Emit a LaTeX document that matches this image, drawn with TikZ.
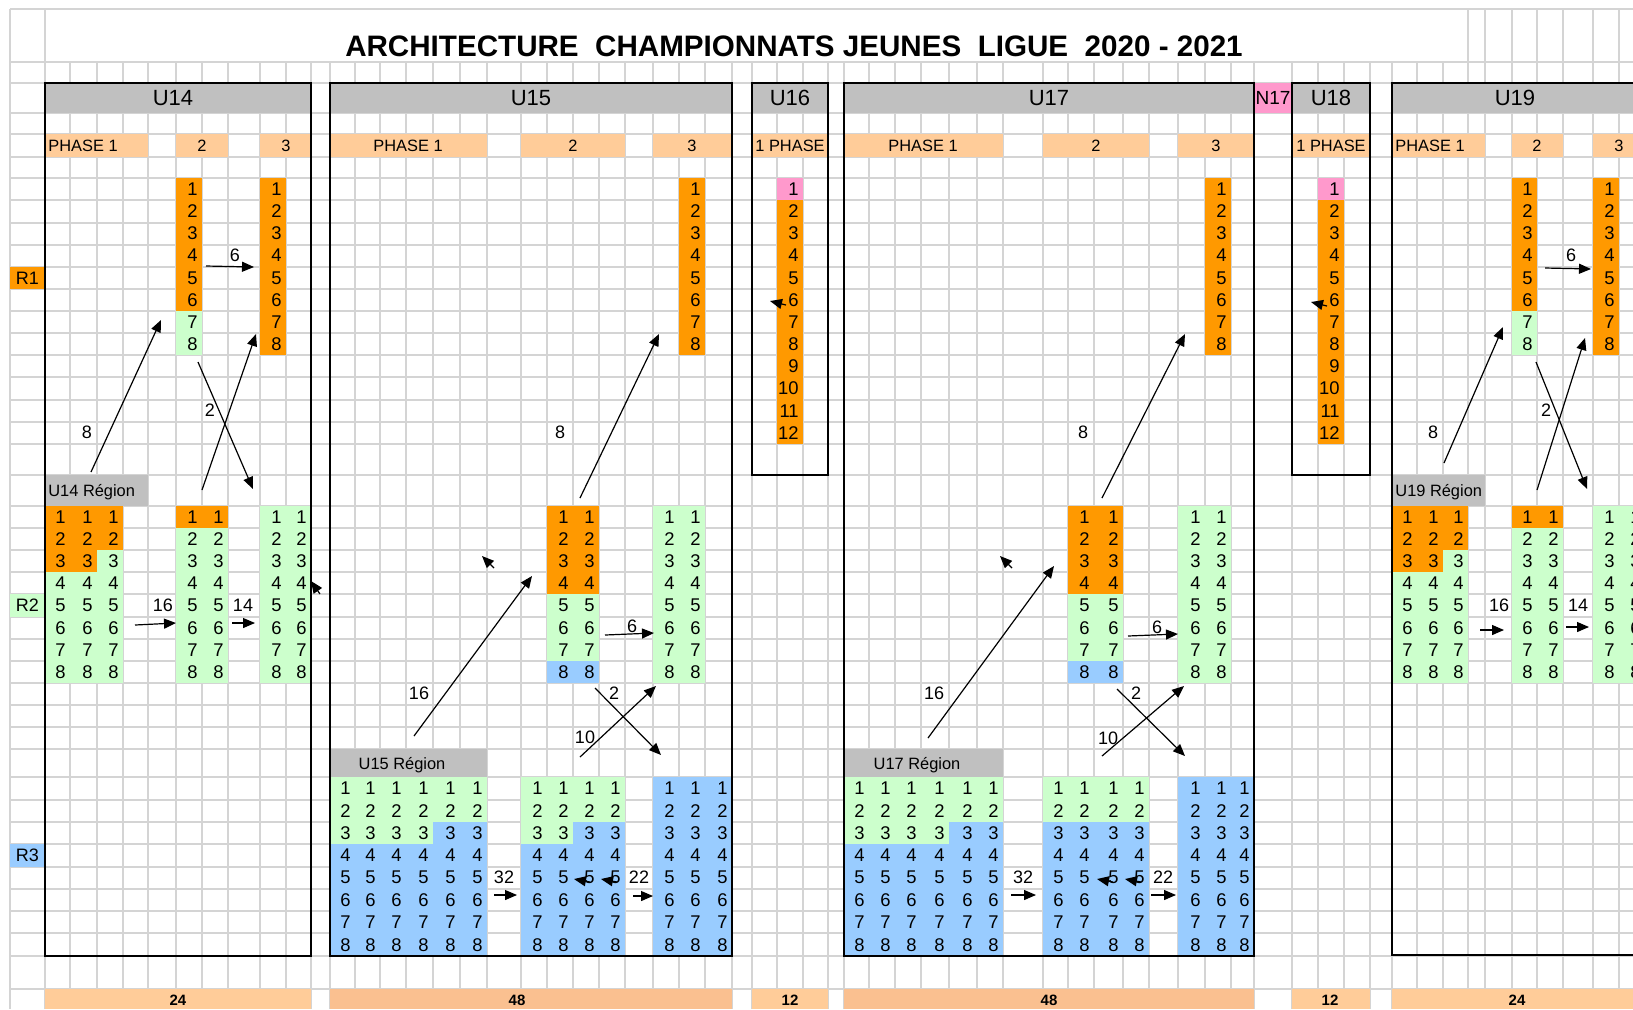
\documentclass[tikz,border=0pt]{standalone}
\usepackage{fontspec}
\setmainfont{Liberation Sans}
\usetikzlibrary{arrows.meta}
\definecolor{gridl}{HTML}{D4D4D4}
\definecolor{hdr}{HTML}{C0C0C0}
\definecolor{orng}{HTML}{FF9900}
\definecolor{pale}{HTML}{FFCC99}
\definecolor{tan}{HTML}{FAC090}
\definecolor{grn}{HTML}{CCFFCC}
\definecolor{blu}{HTML}{99CCFF}
\definecolor{pnk}{HTML}{FF99CC}
% one column of ranks: right edge, top, row height, count
\newcommand{\numcol}[4]{%
  \foreach \i in {1,...,#4}
    \node[num] (n#1-#2-\i) at (#1-4, #2+\i*#3-0.5*#3) {\i};}

\begin{document}
\begin{tikzpicture}[x=0.5pt, y=-0.5pt,
  num/.style={anchor=east, inner sep=0pt, font=\fontsize{9.2}{11}\selectfont},
  lbl/.style={inner sep=0pt, font=\fontsize{9}{11}\selectfont},
  phase/.style={inner sep=0pt, font=\fontsize{8.2}{10}\selectfont},
  region/.style={inner sep=0pt, text depth=0pt, font=\fontsize{8.2}{10}\selectfont},
  cat/.style={inner sep=0pt, font=\fontsize{11}{13}\selectfont},
  tot/.style={inner sep=0pt, font=\fontsize{7.5}{9}\selectfont\bfseries},
  box/.style={draw=black, line width=0.9pt},
  arr/.style={-{Triangle[length=6pt, width=5pt]}, line width=0.6pt}]
  \useasboundingbox (0,0) rectangle (1633,1009);
  \clip (0,0) rectangle (1633,1009);
  \fill[white] (0,0) rectangle (1633,1009);

  % Grid
  \foreach \y in {9,62,83,113,134,157,178,200,223,245,267,289,311,333,355,377,400,422,444,475,506,528,550,572,594,617,639,661,683,705,727,749,777,800,822,844,867,889,911,933,956,989}
    \draw[gridl, line width=0.6pt] (10,\y) -- (1633,\y);
  \foreach \x in {10,45,1468,1485,1512,1537,1563,1593,1619}
    \draw[gridl, line width=0.6pt] (\x,9) -- (\x,62);
  \foreach \x in {10,45,70,97,123,148,176,202,228,260,286,311,330,355,380,406,433,460,487,521,547,573,599,625,653,679,705,732,752,777,803,828,844,869,895,921,949,977,1003,1043,1068,1094,1123,1149,1178,1205,1231,1254,1292,1318,1344,1370,1392,1417,1443,1468,1485,1512,1537,1563,1593,1619}
    \draw[gridl, line width=0.6pt] (\x,62) -- (\x,1009);

  % Title
  \node[font=\fontsize{14.8}{17}\selectfont\bfseries, inner sep=0pt] (title) at (794,46)
    {ARCHITECTURE\ \ CHAMPIONNATS JEUNES\ \ LIGUE\ \ 2020 - 2021};

  % Category headers
  \fill[hdr] (45,83) rectangle (311,113);
  \fill[hdr] (330,83) rectangle (732,113);
  \fill[hdr] (752,83) rectangle (828,113);
  \fill[hdr] (844,83) rectangle (1254,113);
  \fill[pnk] (1254,83) rectangle (1292,113);
  \fill[hdr] (1292,83) rectangle (1370,113);
  \fill[hdr] (1392,83) rectangle (1645,113);
  \node[cat] (u14) at (173,98) {U14};
  \node[cat] (u15) at (531,98) {U15};
  \node[cat] (u16) at (790,98) {U16};
  \node[cat] (u17) at (1049,98) {U17};
  \node[font=\fontsize{9.5}{11}\selectfont, inner sep=0pt] (n17) at (1273,98) {N17};
  \node[cat] (u18) at (1331,98) {U18};
  \node[cat] (u19) at (1515,98) {U19};

  % Phases
  \foreach \a/\b in {45/148,176/228,260/311,330/487,521/625,653/732,752/828,844/1003,1043/1149,1178/1254,1292/1370,1392/1485,1512/1563,1593/1645}
    \fill[pale] (\a,134) rectangle (\b,157);
  \node[phase, anchor=west] (p14a) at (48,145.5) {PHASE 1};
  \node[phase] (p14b) at (202,145.5) {2};
  \node[phase] (p14c) at (286,145.5) {3};
  \node[phase] (p15a) at (408,145.5) {PHASE 1};
  \node[phase] (p15b) at (573,145.5) {2};
  \node[phase] (p15c) at (692,145.5) {3};
  \node[phase] (p16) at (790,145.5) {1 PHASE};
  \node[phase] (p17a) at (923,145.5) {PHASE 1};
  \node[phase] (p17b) at (1096,145.5) {2};
  \node[phase] (p17c) at (1216,145.5) {3};
  \node[phase] (p18) at (1331,145.5) {1 PHASE};
  \node[phase, anchor=west] (p19a) at (1395,145.5) {PHASE 1};
  \node[phase] (p19b) at (1537,145.5) {2};
  \node[phase] (p19c) at (1619,145.5) {3};

  % Levels
  \fill[orng] (10,267) rectangle (45,289);
  \fill[grn] (10,594) rectangle (45,617);
  \fill[blu] (10,844) rectangle (45,867);
  \node[lbl] (r1) at (27.5,278) {R1};
  \node[lbl] (r2) at (27.5,605.5) {R2};
  \node[lbl] (r3) at (27.5,855.5) {R3};

  % R1 columns
  \fill[orng] (176,178) rectangle (202,311);
  \fill[grn] (176,311) rectangle (202,355);
  \fill[orng] (260,178) rectangle (286,355);
  \fill[orng] (679,178) rectangle (705,355);
  \fill[pnk] (777,178) rectangle (803,200);
  \fill[orng] (777,200) rectangle (803,444);
  \fill[orng] (1205,178) rectangle (1231,355);
  \fill[pnk] (1318,178) rectangle (1344,200);
  \fill[orng] (1318,200) rectangle (1344,444);
  \fill[orng] (1512,178) rectangle (1537,311);
  \fill[grn] (1512,311) rectangle (1537,355);
  \fill[orng] (1593,178) rectangle (1619,355);
  \foreach \c in {202,286,705,1231,1537,1619} {\numcol{\c}{178}{22.17}{8}}
  \foreach \c in {803,1344} {\numcol{\c}{178}{22.17}{12}}

  % Regional heads
  \fill[hdr] (45,475) rectangle (148,506);
  \fill[hdr] (330,749) rectangle (487,777);
  \fill[hdr] (844,749) rectangle (1003,777);
  \fill[hdr] (1392,475) rectangle (1485,506);
  \node[region, anchor=west] (reg14) at (48,490.5) {U14 Région};
  \node[region] (reg15) at (402,763) {U15 Région};
  \node[region] (reg17) at (917,763) {U17 Région};
  \node[region, anchor=west] (reg19) at (1395,490.5) {U19 Région};

  % R2 blocks
  \fill[grn] (45,506) rectangle (123,683);
  \fill[orng] (45,506) rectangle (123,550);
  \fill[orng] (45,550) rectangle (97,572);
  \fill[grn] (176,506) rectangle (228,683);
  \fill[orng] (176,506) rectangle (228,528);
  \fill[grn] (260,506) rectangle (311,683);
  \fill[orng] (547,506) rectangle (599,594);
  \fill[grn] (547,594) rectangle (599,661);
  \fill[blu] (547,661) rectangle (599,683);
  \fill[grn] (653,506) rectangle (705,683);
  \fill[orng] (1068,506) rectangle (1123,594);
  \fill[grn] (1068,594) rectangle (1123,661);
  \fill[blu] (1068,661) rectangle (1123,683);
  \fill[grn] (1178,506) rectangle (1231,683);
  \fill[grn] (1392,506) rectangle (1468,683);
  \fill[orng] (1392,506) rectangle (1468,550);
  \fill[orng] (1392,550) rectangle (1443,572);
  \fill[grn] (1512,506) rectangle (1563,683);
  \fill[orng] (1512,506) rectangle (1563,528);
  \fill[grn] (1593,506) rectangle (1645,683);
  \foreach \c in {70,97,123,202,228,286,311,573,599,679,705,1094,1123,1205,1231,1417,1443,1468,1537,1563,1619,1645}
    {\numcol{\c}{506}{22.125}{8}}

  % R3 blocks
  \fill[blu] (330,777) rectangle (487,956);
  \fill[grn] (330,777) rectangle (487,822);
  \fill[grn] (330,822) rectangle (433,844);
  \fill[blu] (521,777) rectangle (625,956);
  \fill[grn] (521,777) rectangle (625,822);
  \fill[grn] (521,822) rectangle (573,844);
  \fill[blu] (653,777) rectangle (732,956);
  \fill[blu] (844,777) rectangle (1003,956);
  \fill[grn] (844,777) rectangle (1003,822);
  \fill[grn] (844,822) rectangle (949,844);
  \fill[blu] (1043,777) rectangle (1149,956);
  \fill[grn] (1043,777) rectangle (1149,822);
  \fill[blu] (1178,777) rectangle (1254,956);
  \foreach \c in {355,380,406,433,460,487,547,573,599,625,679,705,732,869,895,921,949,977,1003,1068,1094,1123,1149,1205,1231,1254}
    {\numcol{\c}{777}{22.375}{8}}

  % Totals
  \fill[pale] (45,989) rectangle (311,1009);
  \fill[tan] (330,989) rectangle (732,1009);
  \fill[pale] (752,989) rectangle (828,1009);
  \fill[tan] (844,989) rectangle (1254,1009);
  \fill[pale] (1292,989) rectangle (1370,1009);
  \fill[pale] (1392,989) rectangle (1645,1009);
  \node[tot] (t14) at (178,1000) {24};
  \node[tot] (t15) at (517,1000) {48};
  \node[tot] (t16) at (790,1000) {12};
  \node[tot] (t17) at (1049,1000) {48};
  \node[tot] (t18) at (1330,1000) {12};
  \node[tot] (t19) at (1517,1000) {24};

  % Category frames
  \draw[box] (45,83) rectangle (311,956);
  \draw[box] (330,83) rectangle (732,956);
  \draw[box] (752,83) rectangle (828,475);
  \draw[box] (844,83) rectangle (1254,956);
  \draw[box] (1292,83) rectangle (1370,475);
  \draw[box] (1392,83) rectangle (1645,955);

  % U14 moves
  \draw[arr] (206,266) -- (254,267);
  \node[lbl] (m14a) at (235,255) {6};
  \draw[arr] (91,472) -- (161,320);
  \node[lbl] (m14b) at (87,432) {8};
  \draw[arr] (198,362) -- (253,489);
  \node[lbl] (m14c) at (210,410) {2};
  \draw[arr] (202,490) -- (256,334);
  \draw[arr] (135,625) -- (176,623);
  \node[lbl] (m14d) at (163,605) {16};
  \draw[arr] (232,623) -- (255,623);
  \node[lbl] (m14e) at (243,605) {14};
  \draw[arr] (320,594) -- (311,581);

  % U15 moves
  \draw[arr] (494,568) -- (482,556);
  \draw[arr] (580,498) -- (659,334);
  \node[lbl] (m15a) at (560,432) {8};
  \draw[arr] (414,736) -- (532,576);
  \node[lbl] (m15b) at (419,693) {16};
  \draw[arr] (605,635) -- (654,633);
  \node[lbl] (m15c) at (632,626) {6};
  \draw[arr] (595,688) -- (661,755);
  \node[lbl] (m15d) at (614,693) {2};
  \draw[arr] (580,757) -- (656,686);
  \node[lbl] (m15e) at (585,737) {10};
  \draw[arr] (494,895) -- (517,895);
  \node[lbl] (m15f) at (504,877) {32};
  \draw[arr] (633,896) -- (653,896);
  \node[lbl] (m15g) at (639,877) {22};
  \draw[arr] (590,882) -- (574,879);
  \draw[arr] (617,882) -- (601,879);

  % U16 and U18 marks
  \draw[arr] (786,305) -- (770,301);
  \draw[arr] (1327,306) -- (1311,302);

  % U17 moves
  \draw[arr] (1012,568) -- (1000,556);
  \draw[arr] (1102,498) -- (1185,334);
  \node[lbl] (m17a) at (1083,432) {8};
  \draw[arr] (928,738) -- (1054,566);
  \node[lbl] (m17b) at (934,693) {16};
  \draw[arr] (1128,636) -- (1178,634);
  \node[lbl] (m17c) at (1157,627) {6};
  \draw[arr] (1117,689) -- (1185,756);
  \node[lbl] (m17d) at (1136,693) {2};
  \draw[arr] (1102,756) -- (1184,686);
  \node[lbl] (m17e) at (1108,738) {10};
  \draw[arr] (1011,895) -- (1036,895);
  \node[lbl] (m17f) at (1023,877) {32};
  \draw[arr] (1151,895) -- (1176,895);
  \node[lbl] (m17g) at (1163,877) {22};
  \draw[arr] (1113,882) -- (1097,879);
  \draw[arr] (1141,882) -- (1125,879);

  % U19 moves
  \draw[arr] (1545,268) -- (1591,269);
  \node[lbl] (m19a) at (1571,255) {6};
  \draw[arr] (1444,463) -- (1503,327);
  \node[lbl] (m19b) at (1433,432) {8};
  \draw[arr] (1536,362) -- (1587,489);
  \node[lbl] (m19c) at (1546,410) {2};
  \draw[arr] (1537,490) -- (1585,338);
  \draw[arr] (1480,630) -- (1504,630);
  \node[lbl] (m19d) at (1499,605) {16};
  \draw[arr] (1566,627) -- (1589,627);
  \node[lbl] (m19e) at (1578,605) {14};
\end{tikzpicture}
\end{document}
